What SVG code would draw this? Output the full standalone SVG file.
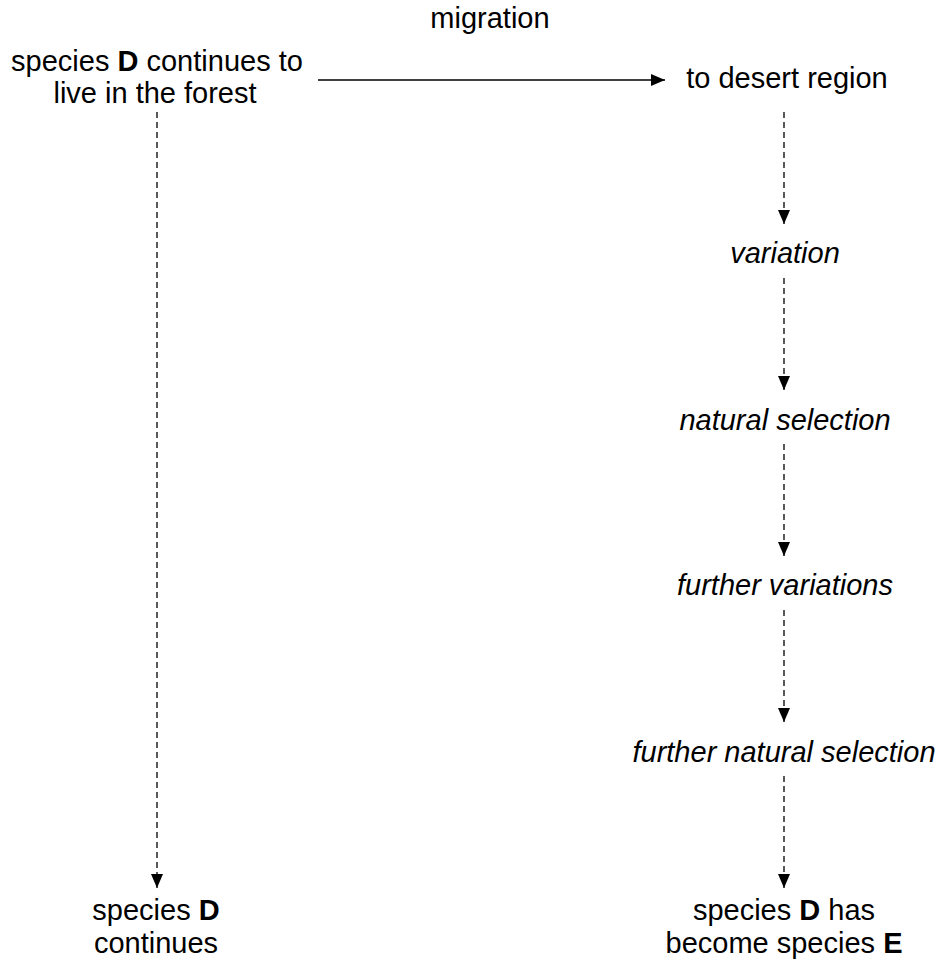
<svg xmlns="http://www.w3.org/2000/svg" width="942" height="964" viewBox="0 0 942 964">
<defs>
<marker id="ah" markerWidth="14" markerHeight="12" refX="14" refY="6" orient="auto" markerUnits="userSpaceOnUse">
<path d="M0,0 L14,6 L0,12 Z" fill="#000"/>
</marker>
<style>
text{font-family:"Liberation Sans",Arial,sans-serif;font-size:29px;fill:#000;text-anchor:middle}
.i{font-style:italic}
.b{font-weight:bold}
.c{stroke:#000;stroke-width:1.3;fill:none}
.d{stroke-dasharray:6,4}
</style>
</defs>
<rect width="942" height="964" fill="#fff"/>
<g id="connectors">
<line class="c" x1="318" y1="80" x2="665" y2="80" marker-end="url(#ah)"/>
<line class="c d" x1="157" y1="112" x2="157" y2="888" marker-end="url(#ah)"/>
<line class="c d" x1="784" y1="112" x2="784" y2="224" marker-end="url(#ah)"/>
<line class="c d" x1="784" y1="278" x2="784" y2="390" marker-end="url(#ah)"/>
<line class="c d" x1="784" y1="444" x2="784" y2="556" marker-end="url(#ah)"/>
<line class="c d" x1="784" y1="610" x2="784" y2="722" marker-end="url(#ah)"/>
<line class="c d" x1="784" y1="776" x2="784" y2="888" marker-end="url(#ah)"/>
</g>
<g id="migration"><text x="490" y="28">migration</text></g>
<g id="forest"><text x="157" y="71">species <tspan class="b">D</tspan> continues to</text><text x="155" y="103">live in the forest</text></g>
<g id="desert"><text x="787" y="88">to desert region</text></g>
<g id="variation"><text class="i" x="785" y="263">variation</text></g>
<g id="selection"><text class="i" x="785" y="430">natural selection</text></g>
<g id="furthervar"><text class="i" x="785" y="595">further variations</text></g>
<g id="furthersel"><text class="i" x="784" y="762">further natural selection</text></g>
<g id="continues"><text x="156" y="920">species <tspan class="b">D</tspan></text><text x="156" y="953">continues</text></g>
<g id="species-e"><text x="784" y="920">species <tspan class="b">D</tspan> has</text><text x="784" y="953">become species <tspan class="b">E</tspan></text></g>
</svg>
